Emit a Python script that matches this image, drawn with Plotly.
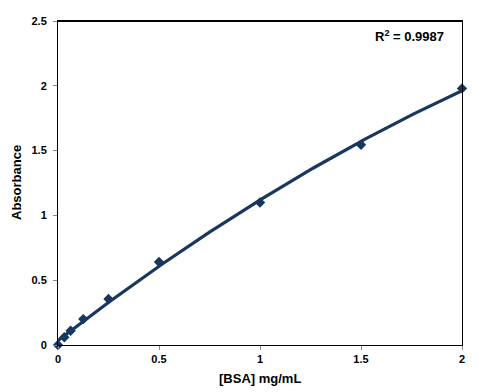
import numpy as np
import plotly.graph_objects as go

bsa_conc = [0, 0.03125, 0.0625, 0.125, 0.25, 0.5, 1.0, 1.5, 2.0]
absorbance = [0, 0.06, 0.11, 0.20, 0.355, 0.64, 1.10, 1.545, 1.98]
x_ticks = [0, 0.5, 1, 1.5, 2]
y_ticks = [0, 0.5, 1, 1.5, 2, 2.5]
r2_label = "R<sup>2</sup> = 0.9987"
x_title = "[BSA] mg/mL"
y_title = "Absorbance"

coef = np.polyfit(bsa_conc, absorbance, 2)
xf = np.linspace(0, 2, 200)
yf = np.polyval(coef, xf)

navy = "#17375E"
font = "Liberation Sans"

fig = go.Figure()
fig.add_trace(go.Scatter(x=xf, y=yf, mode="lines",
                         line=dict(color=navy, width=3.2), cliponaxis=False,
                         hoverinfo="skip", showlegend=False))
fig.add_trace(go.Scatter(x=bsa_conc, y=absorbance, mode="markers",
                         marker=dict(symbol="diamond", size=8, color=navy),
                         cliponaxis=False, showlegend=False))

axis_common = dict(showgrid=False, zeroline=False, showline=True, linecolor="black",
                   linewidth=1, mirror=True, ticks="outside", ticklen=4,
                   tickcolor="#888888", automargin=False,
                   tickfont=dict(family=font, size=11, color="black", weight="bold"))

fig.update_xaxes(range=[0, 2], tickvals=x_ticks, ticktext=[str(v) for v in x_ticks],
                 **axis_common)
fig.update_yaxes(range=[0, 2.5], tickvals=y_ticks, ticktext=[str(v) for v in y_ticks],
                 ticklabelstandoff=4, **axis_common)

fig.add_shape(type="line", xref="paper", yref="paper", x0=0, x1=1, y0=1, y1=1,
              line=dict(color="black", width=2))

fig.add_annotation(x=0.5, y=0, xref="paper", yref="paper", text=f"<b>{x_title}</b>",
                   showarrow=False, xanchor="center", yanchor="middle", yshift=-33,
                   font=dict(family=font, size=13, color="black"))
fig.add_annotation(x=0, y=0.5, xref="paper", yref="paper", text=f"<b>{y_title}</b>",
                   showarrow=False, xanchor="center", yanchor="middle", xshift=-42,
                   textangle=-90, font=dict(family=font, size=13, color="black"))

fig.add_annotation(x=0.96, y=0.955, xref="paper", yref="paper", text=f"<b>{r2_label}</b>",
                   showarrow=False, xanchor="right", yanchor="middle",
                   font=dict(family=font, size=13, color="black"))

fig.update_layout(width=474, height=384, margin=dict(l=50, r=20, t=13, b=47),
                  plot_bgcolor="white", paper_bgcolor="white")

fig.write_html("out.html")
